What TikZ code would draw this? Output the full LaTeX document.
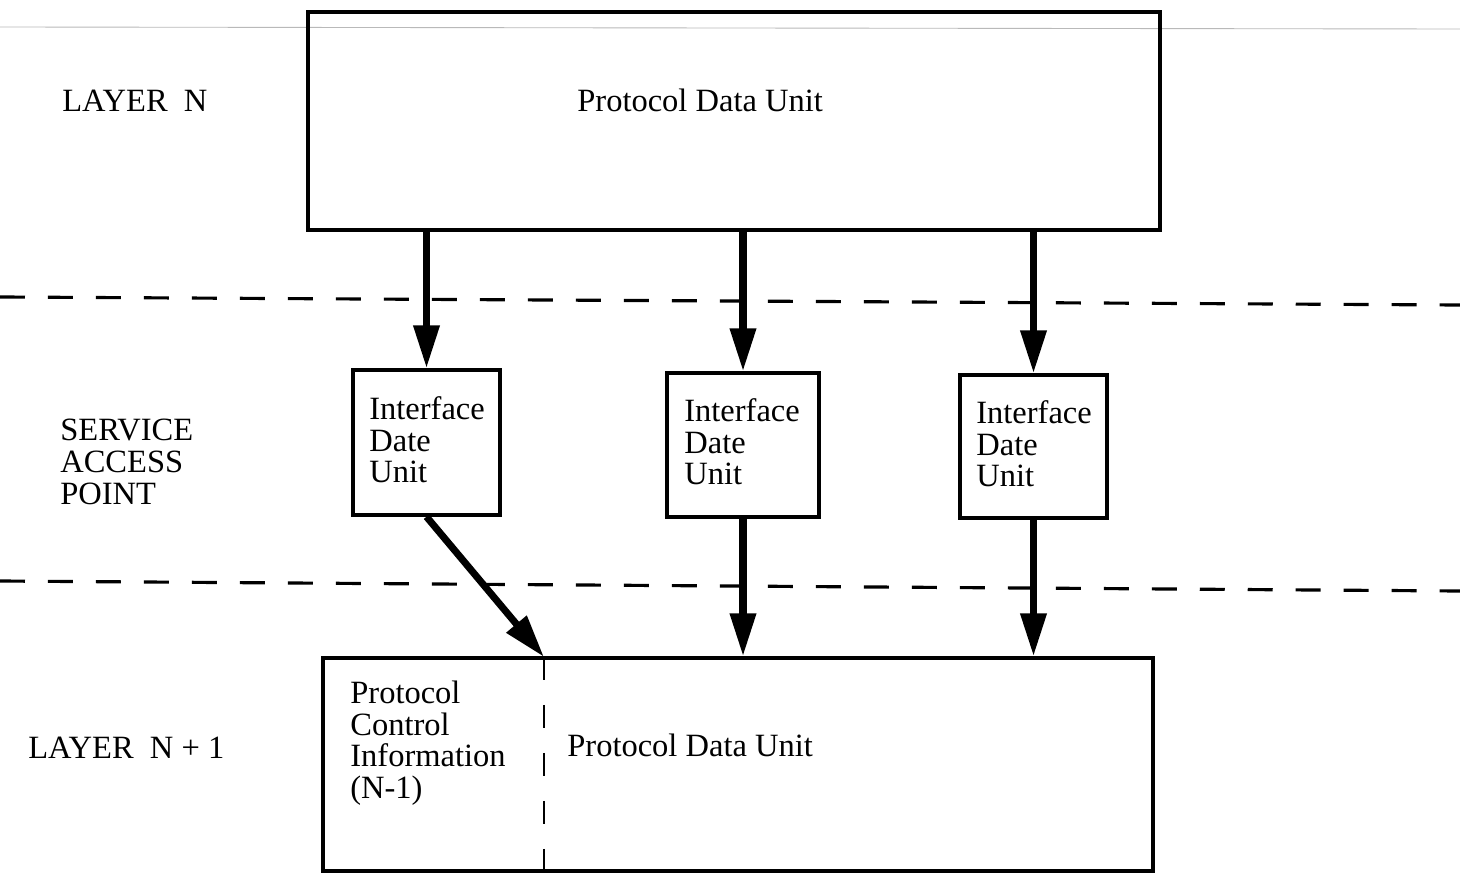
\documentclass[tikz,border=0pt]{standalone}
\usepackage{fontspec}
\setmainfont{Liberation Serif}
\usetikzlibrary{arrows.meta}
\begin{document}
\begin{tikzpicture}[x=0.02cm,y=-0.02cm,
  lbl/.style={font=\fontsize{18.5}{18}\selectfont, inner sep=0pt, align=left, anchor=west},
  unitbox/.style={draw, line width=2pt, inner sep=0pt},
  flow/.style={line width=4pt, -{Triangle[length=0.86cm,width=0.5cm]}},
  layerline/.style={line width=1.8pt, dash pattern=on 0.5cm off 0.46cm},
  splitline/.style={line width=1.3pt, dash pattern=on 0.46cm off 0.5cm}]
\useasboundingbox (0,0) rectangle (1460,875);

% faint rule near the top edge
\draw[gray!55, line width=0.5pt] (0,27) -- (1460,29);

% layer boundaries
\draw[layerline] (0,297) -- (1460,305);
\draw[layerline] (0,581) -- (1460,591);

% layer N protocol data unit
\node[unitbox, minimum width=17.04cm, minimum height=4.36cm] (pdutop) at (734,121) {};
\node[lbl] (pdutoptext) at (577,100) {Protocol Data Unit};

% interface data units at the service access point
\node[unitbox, minimum width=2.94cm, minimum height=2.9cm] (ib1) at (426.5,442.5) {};
\node[unitbox, minimum width=3.04cm, minimum height=2.88cm] (ib2) at (743,445) {};
\node[unitbox, minimum width=2.94cm, minimum height=2.86cm] (ib3) at (1033.5,446.5) {};
\node[lbl] (ib1text) at (369,440) {Interface\\Date\\Unit};
\node[lbl] (ib2text) at (684,442) {Interface\\Date\\Unit};
\node[lbl] (ib3text) at (976,444) {Interface\\Date\\Unit};

% layer N+1 protocol data unit with its control information
\node[unitbox, minimum width=16.6cm, minimum height=4.26cm] (pdubot) at (738,764.5) {};
\coordinate (splittop) at (544,657);
\coordinate (splitbot) at (544,871);
\draw[splitline] (splittop) -- (splitbot);
\node[lbl] (pcitext) at (350,743) {Protocol\\Control\\Information\\(N-1)};
\node[lbl] (pdubottext) at (567,745) {Protocol Data Unit};

% side labels
\node[lbl] (layern) at (62,101) {LAYER\ \ N};
\node[lbl] (sap) at (60,462) {SERVICE\\ACCESS\\POINT};
\node[lbl] (layern1) at (28,748) {LAYER\ \ N + 1};

% connectors
\draw[flow] (ib1.north |- pdutop.south) -- (ib1.north);
\draw[flow] (ib2.north |- pdutop.south) -- (ib2.north);
\draw[flow] (ib3.north |- pdutop.south) -- (ib3.north);
\draw[flow] (ib1.south) -- (splittop);
\draw[flow] (ib2.south) -- (ib2.south |- pdubot.north);
\draw[flow] (ib3.south) -- (ib3.south |- pdubot.north);
\end{tikzpicture}
\end{document}
